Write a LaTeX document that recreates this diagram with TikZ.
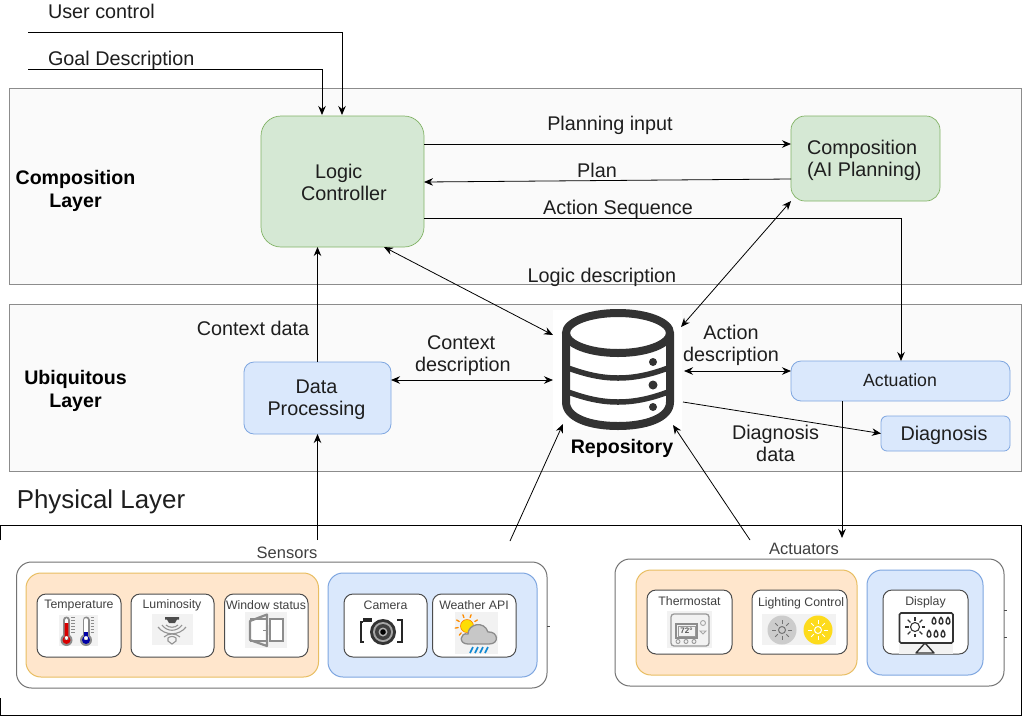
\documentclass[tikz,border=0pt]{standalone}
\usepackage{fontspec}
\setmainfont{Liberation Sans}
\usetikzlibrary{arrows.meta,calc}
\definecolor{ink}{HTML}{1E1E1E}
\definecolor{icon}{HTML}{333333}
\definecolor{greenf}{HTML}{D5E8D4}\definecolor{greend}{HTML}{82B366}
\definecolor{bluef}{HTML}{DAE8FC}\definecolor{blued}{HTML}{7EA6E0}
\definecolor{orf}{HTML}{FFE6CC}\definecolor{ord}{HTML}{E8BE62}
\definecolor{iconbg}{HTML}{F2F2F2}\definecolor{igray}{HTML}{8C8C8C}
\tikzset{
 x=1pt,y=-1pt,
 every node/.style={text=ink,inner sep=0pt,outer sep=0pt,align=center},
 lab/.style={font=\fontsize{19.8}{22}\selectfont},
 blab/.style={font=\fontsize{19.6}{23}\selectfont\bfseries,text=black},
 layerbox/.style={draw=black!45,fill=black!1.8,line width=.8pt},
 gbox/.style={draw=greend,fill=greenf,line width=.7pt,rounded corners=20pt},
 gsmall/.style={gbox,rounded corners=14pt},
 bbox/.style={draw=blued,fill=bluef,line width=.8pt,rounded corners=10pt},
 bsmall/.style={bbox,rounded corners=6pt},
 outerbox/.style={draw=black!55,fill=white,line width=1pt,rounded corners=15pt},
 orbox/.style={draw=ord,fill=orf,line width=1pt,rounded corners=15pt},
 blbox/.style={draw=blued,fill=bluef,line width=1pt,rounded corners=15pt},
 smbox/.style={draw=black!70,fill=white,line width=1pt,rounded corners=9pt},
 sm/.style={font=\fontsize{12.3}{14}\selectfont,text=black!75},
 grp/.style={font=\fontsize{16.5}{18}\selectfont,text=black!75},
 conn/.style={draw=black,line width=.8pt,-{Stealth[length=9pt,width=7.5pt]}},
 biconn/.style={draw=black,line width=.8pt,{Stealth[length=9pt,width=7.5pt]}-{Stealth[length=9pt,width=7.5pt]}},
 plain/.style={draw=black,line width=.9pt},
}
\newcommand{\bx}[7]{%
 \pgfmathsetmacro{\cxx}{(#3+#5)/2}\pgfmathsetmacro{\cyy}{(#4+#6)/2}%
 \pgfmathsetmacro{\wdd}{#5-#3}\pgfmathsetmacro{\htt}{#6-#4}%
 \node[#2,minimum width=\wdd pt,minimum height=\htt pt] (#1) at (\cxx,\cyy) {#7};}
\newcommand{\sunrays}[3]{% x y r
 \foreach \a in {0,45,...,315}{\draw ($(#1,#2)+(\a:#3)$) -- ($(#1,#2)+(\a:#3*1.6)$);}}
\begin{document}
\begin{tikzpicture}
\useasboundingbox (0,0) rectangle (1033,716);
\fill[white] (0,0) rectangle (1033,716);
% layers
\bx{complayer}{layerbox}{9}{88}{1021}{284}{}
\bx{ubilayer}{layerbox}{9}{304}{1021}{471}{}
\node[blab] (comptxt) at (75.5,191) {Composition\\Layer};
\node[blab] (ubitxt) at (75.5,391) {Ubiquitous\\Layer};
\node[font=\fontsize{25.9}{28}\selectfont] (phytxt) at (101,502) {Physical Layer};
% physical border
\draw[plain] (0.5,540) -- (0.5,525.5) -- (1021,525.5) -- (1021,715) -- (0.5,715) -- (0.5,698);
% main nodes
\bx{lc}{gbox}{261}{116}{424}{247}{}
\bx{comp}{gsmall}{791}{116}{940}{201}{}
\bx{dp}{bbox}{244}{362}{391}{434}{}
\bx{act}{bbox}{791}{361}{1010}{401}{}
\bx{diag}{bsmall}{881}{416}{1010}{451}{}
\node[lab,align=left,anchor=west] (lct) at (301,182) {\hspace*{14pt}Logic\\Controller};
\node[lab,align=left,anchor=west] (compt) at (807,160) {Composition\\(AI Planning)};
\node[lab] (dpt) at (316.5,400) {Data\\Processing};
\node[font=\fontsize{17.7}{20}\selectfont] (actt) at (900,380) {Actuation};
\node[lab] (diagt) at (944,435) {Diagnosis};
\bx{repo}{fill=white}{553}{310}{682}{430}{}
% database icon
\begin{scope}[draw=icon,line width=8pt]
 \draw (566,334) -- (566,402) .. controls (566,418) and (590,426) .. (618,426) .. controls (646,426) and (670,418) .. (670,402) -- (670,334);
 \draw (618,333) ellipse [x radius=52,y radius=20];
 \draw[line width=5.5pt] (568,368) .. controls (585,374) and (600,378) .. (618,378) .. controls (636,378) and (652,374) .. (668,368);
 \draw[line width=5.5pt] (568,392) .. controls (585,398) and (600,402) .. (618,402) .. controls (636,402) and (652,398) .. (668,392);
\end{scope}
\fill[icon] (653,362) circle (4) (653,385) circle (4.5) (653,407) circle (4);
\node[blab] (repotxt) at (622,448) {Repository};
% free ends
\coordinate (uc) at (28,32);
\coordinate (gd) at (28,69);
\coordinate (s1) at (317.5,540);
\coordinate (s2) at (510,541);
\coordinate (a1) at (750,540);
\coordinate (a2) at (842,538);
% connectors
\draw[conn] (uc) -- (342,32) -- (342,115);
\draw[conn] (gd) -- (322,69) -- (322,115);
\draw[conn] ([yshift=37.5pt]lc.east) -- (comp.west |- 0,144);
\draw[conn] ([yshift=-20.5pt]comp.west) -- ([yshift=-.5pt]lc.east);
\draw[conn] ([yshift=-36.5pt]lc.east) -- (901,218) -- (901,361);
\draw[biconn] (384,247) -- (repo.west |- 0,335);
\draw[biconn] (comp.south west) -- (681,327);
\draw[conn] (dp.north -| 317.5,0) -- (lc.south -| 317.5,0);
\draw[biconn] ([yshift=18pt]dp.east) -- ([yshift=-10pt]repo.west);
\draw[biconn] (684,371) -- (act.west |- 0,371);
\draw[conn] (683,402) -- (diag.west);
\draw[conn] (842,401) -- (a2);
\draw[conn] (s1) -- (dp.south -| 317.5,0);
\draw[conn] (s2) -- (563,424);
\draw[conn] (a1) -- (673,425);
% edge labels
\node[lab] (l1) at (610,125) {Planning input};
\node[lab] (l2) at (597,170) {Plan};
\node[lab] (l3) at (618,209) {Action Sequence};
\node[lab] (l4) at (602,277) {Logic description};
\node[lab] (l5) at (253,328) {Context data};
\node[lab,align=left,anchor=west] (l6) at (415,356) {\hspace*{12pt}Context\\description};
\node[lab] (l7) at (731,345) {Action\\description};
\node[lab] (l8) at (775.5,443) {Diagnosis\\data};
\node[lab,anchor=west] (l9) at (48,11) {User control};
\node[lab,anchor=west] (l10) at (48,60) {Goal Description};
% sensors
\node[grp] (senstxt) at (287,553) {Sensors};
\bx{sens}{outerbox}{16.5}{562}{547}{688}{}
\bx{sor}{orbox}{26}{573}{318.5}{677}{}
\bx{sbl}{blbox}{328}{573}{537}{677}{}
\bx{temp}{smbox}{37}{594}{121}{657}{}
\bx{lum}{smbox}{131}{594}{214}{657}{}
\bx{win}{smbox}{224.5}{594}{308}{657}{}
\bx{cam}{smbox}{344}{594}{427}{657}{}
\bx{wea}{smbox}{432.5}{594}{516}{657}{}
\node[sm] (t1) at (79,606) {Temperature};
\node[sm] (t2) at (172,605.5) {Luminosity};
\node[sm] (t3) at (266,605) {Window status};
\node[sm] (t4) at (385.5,605.5) {Camera};
\node[sm] (t5) at (474,605.5) {Weather API};
% temperature icon
\fill[iconbg] (59,615) rectangle (98,646);
\foreach \xx/\cc/\yy in {66.5/red!85!black/623,86/blue!65!black/632}{
 \draw[igray,line width=7pt,line cap=round] (\xx,620) -- (\xx,638);
 \fill[igray] (\xx,640) circle (6);
 \draw[white,line width=3.6pt,line cap=round] (\xx,620) -- (\xx,638);
 \fill[\cc] (\xx,640) circle (4) (\xx-1.8,\yy) rectangle (\xx+1.8,640);
 \foreach \k in {0,3,...,15}{\draw[igray,line width=.7pt] (\xx+4.5,617+\k) -- (\xx+8,617+\k);}
}
% luminosity icon
\fill[iconbg] (151.5,614) rectangle (193,645);
\fill[black!70] (165,617) rectangle (179,619.5) (167,619.5) -- (177,619.5) -- (175,623) -- (169,623) -- cycle;
\begin{scope}[black!42,line width=1.1pt]
 \draw (166,625) .. controls (169,628) and (175,628) .. (178,625);
 \draw (162,625) .. controls (167,632) and (177,632) .. (182,625);
 \draw (158,627) .. controls (165,636) and (179,636) .. (186,627);
 \draw (164,637) .. controls (168,633) and (176,633) .. (180,637);
 \draw (168,641) -- (172,644) -- (176,641) -- (176,638) .. controls (174,636) and (170,636) .. (168,638) -- cycle;
\end{scope}
% window icon
\fill[iconbg] (244.5,612) rectangle (287,648);
\fill[white] (251,620) rectangle (282,640);
\draw[igray,line width=2pt] (250,619) -- (267,619) (250,641) -- (267,641);
\draw[igray,line width=2pt] (270,619) rectangle (283,641);
\fill[iconbg] (268,625) rectangle (269,635);
\draw[igray,line width=2.2pt,line join=round] (250,621) -- (267,614.5) -- (267,646) -- (250,640) -- cycle;
\draw[igray,line width=1pt] (263,630) -- (266,630);
% camera icon
\draw[black!85,line width=1.8pt] (363,622) -- (361,622) -- (361,642) -- (364,642);
\draw[black!85,line width=1.8pt] (397,620) -- (402,620) -- (402,642) -- (397,642);
\fill[black!85] (363,618) rectangle (372,622);
\fill[black!80] (383,632) circle (13);
\fill[black!35] (383,632) circle (10);
\fill[black!75] (383,632) circle (8);
\fill[black!30] (383,632) circle (4.5);
\fill[black] (383,632) circle (2.8);
% weather icon
\fill[iconbg] (455,612) rectangle (498,654);
\foreach \a in {-110,-70,-30,170,210,130,90}{\draw[orange!90!yellow,line width=1.3pt,line cap=round] ($(467,626)+(\a:9)$) -- ($(467,626)+(\a:12)$);}
\fill[yellow!80!orange,draw=orange,line width=.6pt] (467,626) circle (6.5);
\draw[igray,fill=black!22,line width=1.3pt] (468,644) .. controls (458,644) and (460,632) .. (468,634) .. controls (468,624) and (484,620) .. (488,632) .. controls (498,631) and (500,644) .. (489,644) -- cycle;
\foreach \k in {0,5,10,15}{\draw[cyan!70!blue,line width=1.6pt] (470+\k,653) -- (473+\k,647);}
% actuators
\node[grp] (acttxt) at (804,549) {Actuators};
\bx{actg}{outerbox}{615}{559}{1004}{686}{}
\bx{aor}{orbox}{636}{570}{857}{675}{}
\bx{abl}{blbox}{867}{570}{983}{675}{}
\bx{therm}{smbox}{647}{590}{732}{654}{}
\bx{light}{smbox}{752}{590}{847}{654}{}
\bx{disp}{smbox}{883}{590}{968}{654}{}
\node[sm] (t6) at (689.5,601.5) {Thermostat};
\begin{scope}
 \clip (752,590) rectangle (846,654);
 \node[sm,anchor=west] (t7) at (758,603) {Lighting Control};
\end{scope}
\node[sm] (t8) at (925.5,602.5) {Display};
% thermostat icon
\fill[iconbg] (667,611) rectangle (712,648);
\draw[black!40,line width=1.3pt,rounded corners=3pt] (671,614) rectangle (709,646);
\draw[black!45,line width=1.1pt] (676,624) rectangle (697,638);
\draw[black!40,line width=.8pt] (678,626) rectangle (695,636);
\node[font=\bfseries\fontsize{8}{8}\selectfont,text=black!65] (t9) at (686.5,631) {72°};
\draw[black!35,line width=.9pt] (703,623) circle (2.5) (703,634) -- (700,631) -- (706,631) -- cycle;
\draw[black!40,line width=.9pt] (678,641.5) circle (2) (686,641.5) circle (2) (694,641.5) circle (2);
% lighting icon
\fill[iconbg] (762,614) rectangle (836,645);
\fill[black!20] (782,630) circle (14.5);
\fill[yellow!75!orange!90] (818,630) circle (14.5);
\begin{scope}[draw=black!55,line width=1pt]
 \draw (782,630) circle (3.5);
 \sunrays{782}{630}{6}
\end{scope}
\begin{scope}[draw=white,line width=1pt]
 \draw (818,630) circle (3.5);
 \sunrays{818}{630}{6}
\end{scope}
% display icon
\fill[iconbg] (899,644) rectangle (953,654);
\draw[icon,line width=1.6pt,rounded corners=1.5pt] (899.5,613) rectangle (953,643);
\draw[icon,line width=1.4pt,line join=round] (916,653) -- (925,643) -- (934,653) -- cycle;
\draw[icon,line width=1.1pt] (915,627) circle (4.5);
\begin{scope}[draw=icon,line width=1.1pt]
 \sunrays{915}{627}{6.5}
\end{scope}
\foreach \px/\py in {934/621,941/621,948/621,929/634,936/634,943/634}{
 \draw[icon,line width=1.4pt] (\px,\py-4) .. controls (\px+3,\py) and (\px+2,\py+3) .. (\px,\py+3) .. controls (\px-2,\py+3) and (\px-3,\py) .. (\px,\py-4);}
% stray marks on the group frames
\draw[black!70,line width=.8pt] (547,626) -- (550,626) (1004,610) -- (1007,610) (1004,637) -- (1007,637);
\end{tikzpicture}
\end{document}
